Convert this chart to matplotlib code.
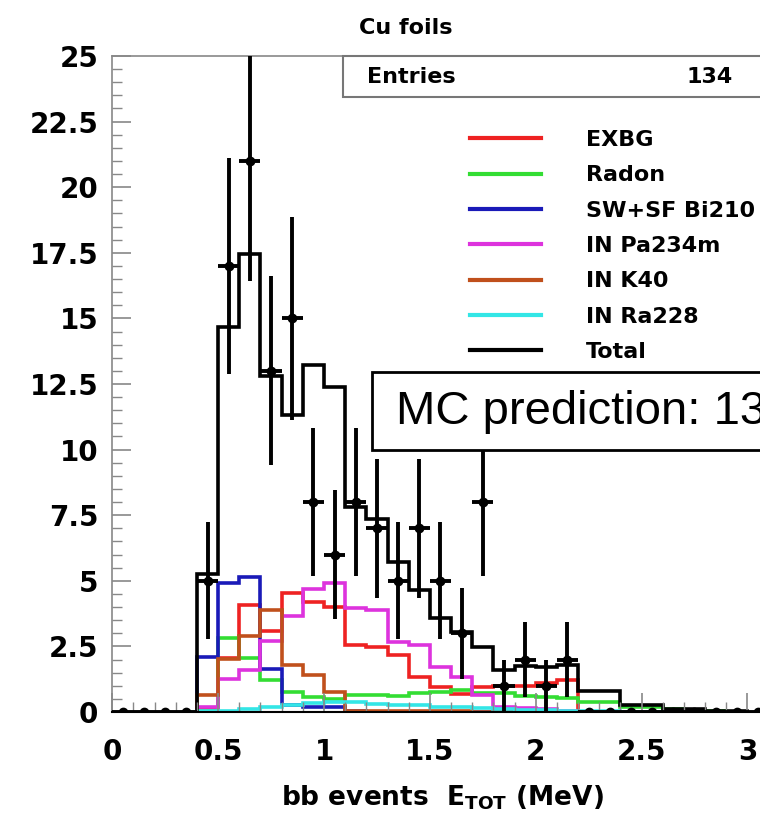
import numpy as np
import matplotlib
matplotlib.use('Agg')
import matplotlib.pyplot as plt
from matplotlib.patches import Rectangle

# bin edges of the MC histograms (MeV)
edges = np.round(np.arange(0.4, 3.01, 0.1), 2)

# MC components, one value per 0.1 MeV bin starting at 0.4 MeV
exbg = [0.1, 2.05, 4.06, 3.1, 4.53, 4.2, 4.02, 2.56, 2.48, 2.17, 1.35, 0.97, 0.7,
        0.97, 1.0, 1.0, 1.1, 1.22, 0, 0, 0, 0, 0, 0, 0, 0]
radon = [0.05, 2.81, 2.05, 1.22, 0.78, 0.59, 0.5, 0.65, 0.65, 0.6, 0.72, 0.78, 0.84,
         0.72, 0.72, 0.6, 0.57, 0.55, 0.4, 0.4, 0.2, 0.2, 0.1, 0.05, 0.02, 0.0]
bi210 = [2.09, 4.9, 5.15, 1.63, 0.25, 0.2, 0.2, 0.02, 0, 0, 0, 0, 0,
         0, 0, 0, 0, 0, 0, 0, 0, 0, 0, 0, 0, 0]
pa234m = [0.2, 1.26, 1.6, 2.7, 3.64, 4.7, 4.92, 3.96, 3.9, 2.68, 2.56, 1.73, 1.35,
          0.65, 0.2, 0.15, 0.1, 0.05, 0, 0, 0, 0, 0, 0, 0, 0]
k40 = [0.65, 2.02, 2.9, 3.9, 1.8, 1.41, 0.78, 0.05, 0.03, 0.02, 0.02, 0.02, 0.02,
       0.01, 0.01, 0.01, 0, 0, 0, 0, 0, 0, 0, 0, 0, 0]
ra228 = [0.02, 0.05, 0.1, 0.2, 0.27, 0.33, 0.39, 0.39, 0.3, 0.27, 0.27, 0.2, 0.2,
         0.15, 0.1, 0.08, 0.06, 0.05, 0.03, 0.02, 0.01, 0, 0, 0, 0, 0]
total = [5.27, 14.67, 17.44, 12.8, 11.3, 13.24, 12.38, 7.8, 7.35, 5.72, 4.66, 3.57, 3.05,
         2.46, 1.6, 1.75, 1.73, 1.8, 0.8, 0.8, 0.27, 0.27, 0.1, 0.1, 0.05, 0.05]

names = ['EXBG', 'Radon', 'SW+SF Bi210', 'IN Pa234m', 'IN K40', 'IN Ra228', 'Total']
colors = ['#ee2222', '#33dd33', '#1a1ab8', '#dd33dd', '#c0501c', '#33e6e6', 'black']

# data: event counts per 0.1 MeV bin from 0 to 3.5 MeV
data_counts = [0, 0, 0, 0, 5, 17, 21, 13, 15, 8, 6, 8, 7, 5, 7, 5, 3, 8, 1, 2, 1, 2,
               0, 0, 0, 0, 0, 0, 0, 0, 0, 0, 0, 0, 0]
data_centers = np.round(np.arange(0.05, 3.5, 0.1), 2)

W, H = 760, 819
fig = plt.figure(figsize=(W / 100, H / 100), dpi=100)
ax = fig.add_axes([112.3 / W, 107 / H, 3.5 * 211.7 / W, 656 / H])

for vals, col, name in zip([exbg, radon, bi210, pa234m, k40, ra228, total], colors, names):
    ax.stairs(vals, edges, color=col, lw=2.6, label=name)

counts = np.array(data_counts, dtype=float)
ax.errorbar(data_centers, counts, yerr=np.sqrt(counts), xerr=0.05, fmt='o',
            color='black', ms=6, elinewidth=2.8, capsize=0, zorder=5, clip_on=True)

ax.set_xlim(0, 3.5)
ax.set_ylim(0, 25)
ax.set_xticks(np.arange(0, 3.01, 0.5))
ax.set_xticklabels(['0', '0.5', '1', '1.5', '2', '2.5', '3'])
ax.set_xticks(np.arange(0, 3.51, 0.1), minor=True)
ax.set_yticks(np.arange(0, 25.1, 2.5))
ax.set_yticklabels(['0', '2.5', '5', '7.5', '10', '12.5', '15', '17.5', '20', '22.5', '25'])
ax.set_yticks(np.arange(0, 25.1, 0.5), minor=True)
ax.tick_params(which='both', direction='in', color='#888888', top=False, right=False)
ax.tick_params(which='major', length=14, width=1.2, labelsize=20)
ax.tick_params(axis='y', which='major', pad=10)
ax.tick_params(axis='x', which='major', pad=19)
ax.tick_params(which='minor', length=7, width=1.0)
for lab in ax.get_xticklabels() + ax.get_yticklabels():
    lab.set_fontweight('bold')
    lab.set_family('DejaVu Sans')
for s in ['left', 'top']:
    ax.spines[s].set_color('#888888')
    ax.spines[s].set_linewidth(1.2)
ax.spines['bottom'].set_color('black')
ax.spines['bottom'].set_linewidth(1.5)

leg = ax.legend(loc='upper left', bbox_to_anchor=(470 / W, 1 - 130 / H),
                bbox_transform=fig.transFigure, frameon=False,
                handlelength=3.2, handletextpad=2.0, labelspacing=0.69,
                borderpad=0, borderaxespad=0,
                prop={'weight': 'bold', 'family': 'DejaVu Sans', 'size': 16})
for line in leg.get_lines():
    line.set_linewidth(3)

# stats box
fig.add_artist(Rectangle((343 / W, 1 - 97 / H), 0.6, 41 / H, transform=fig.transFigure,
                         facecolor='white', edgecolor='#777777', lw=1.5, zorder=10))
fig.text(367 / W, 1 - 77 / H, 'Entries', fontsize=16, fontweight='bold',
         family='DejaVu Sans', va='center', ha='left', zorder=11)
fig.text(733 / W, 1 - 77 / H, '134', fontsize=16, fontweight='bold',
         family='DejaVu Sans', va='center', ha='right', zorder=11)

# MC prediction box
fig.add_artist(Rectangle((372 / W, 1 - 450 / H), 0.6, 78 / H, transform=fig.transFigure,
                         facecolor='white', edgecolor='black', lw=2, zorder=10))
fig.text(396 / W, 1 - 412 / H, 'MC prediction: 13', fontsize=34,
         family='Liberation Sans', va='center', ha='left', zorder=11)

fig.text(406 / W, 1 - 28 / H, 'Cu foils', fontsize=16, fontweight='bold',
         family='DejaVu Sans', ha='center', va='center')
fig.text(442 / W, 1 - 798 / H, r'bb events  E$_{\mathbf{TOT}}$ (MeV)', fontsize=19,
         fontweight='bold', family='DejaVu Sans', ha='center', va='center')

fig.savefig('out.png', dpi=100)
